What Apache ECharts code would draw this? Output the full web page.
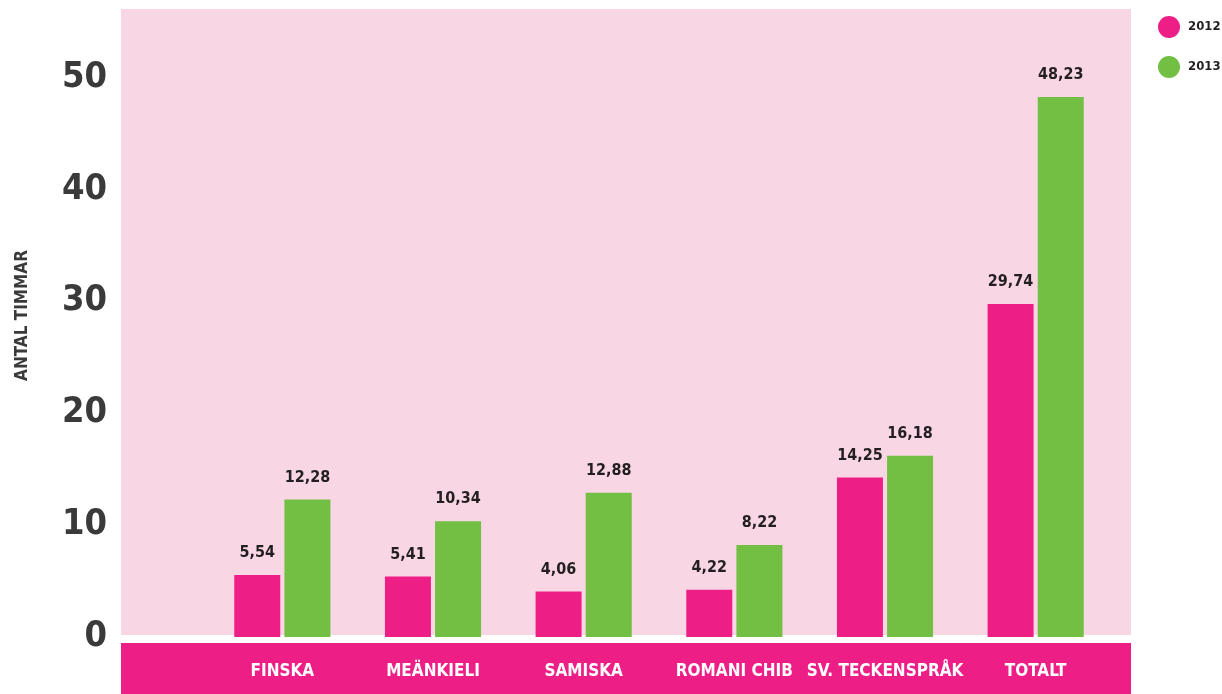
<!DOCTYPE html>
<html>
<head>
<meta charset="utf-8">
<script src="https://cdn.jsdelivr.net/npm/echarts@6/dist/echarts.min.js"></script>
<style>html,body{margin:0;padding:0;background:#fff}#c{width:1222px;height:694px}</style>
</head>
<body>
<div id="c"></div>
<script>
const categories = ['FINSKA', 'MEÄNKIELI', 'SAMISKA', 'ROMANI CHIB', 'SV. TECKENSPRÅK', 'TOTALT'];
const values2012 = [5.54, 5.41, 4.06, 4.22, 14.25, 29.74];
const values2013 = [12.28, 10.34, 12.88, 8.22, 16.18, 48.23];
const seriesNames = ['2012', '2013'];
const yTicks = [0, 10, 20, 30, 40, 50];

const FONT = '"DejaVu Sans Condensed", "Liberation Sans Narrow", sans-serif';
const PINK = '#ED1E86', GREEN = '#72BF44';

const chart = echarts.init(document.getElementById('c'), null, {renderer: 'canvas'});
const fmt = p => String(p.value).replace('.', ',');
chart.setOption({
  animation: false,
  backgroundColor: '#fff',
  graphic: [
    {type: 'rect', z: -10, shape: {x: 121, y: 9, width: 1010, height: 626}, style: {fill: '#F9D6E3'}},
    {type: 'rect', z: -10, shape: {x: 121, y: 643, width: 1010, height: 51}, style: {fill: PINK}}
  ],
  legend: {
    orient: 'vertical', left: 1153, top: 11, itemWidth: 22, itemHeight: 22, itemGap: 18,
    icon: 'circle', data: seriesNames,
    textStyle: {fontFamily: FONT, fontWeight: 'bold', fontSize: 13, color: '#231f20', padding: [0, 0, 0, 3]}
  },
  grid: {left: 207, right: 111, top: 10, height: 627},
  xAxis: {
    type: 'category', data: categories,
    axisLine: {show: false}, axisTick: {show: false},
    axisLabel: {interval: 0, color: '#fff', fontFamily: FONT, fontWeight: 'bold', fontSize: 17, margin: 26}
  },
  yAxis: {
    type: 'value', min: 0, max: 56, interval: 10,
    splitLine: {show: false}, axisLine: {show: false}, axisTick: {show: false},
    axisLabel: {
      showMaxLabel: false,
      formatter: v => (yTicks.indexOf(v) >= 0 ? String(v) : ''),
      color: '#3a3a3a', fontFamily: FONT, fontWeight: 'bold', fontSize: 36, margin: 100
    },
    name: 'ANTAL TIMMAR', nameLocation: 'middle', nameRotate: 90, nameGap: 176,
    nameTextStyle: {color: '#3a3a3a', fontFamily: FONT, fontWeight: 'bold', fontSize: 17, padding: [0, 0, 0, 16]}
  },
  series: [
    {
      name: seriesNames[0], type: 'bar', data: values2012, barWidth: 46, barGap: '9%',
      itemStyle: {color: PINK},
      label: {show: true, position: 'top', distance: 14, formatter: fmt,
        fontFamily: FONT, fontWeight: 'bold', fontSize: 16, color: '#231f20'}
    },
    {
      name: seriesNames[1], type: 'bar', data: values2013, barWidth: 46, barGap: '9%',
      itemStyle: {color: GREEN},
      label: {show: true, position: 'top', distance: 14, formatter: fmt,
        fontFamily: FONT, fontWeight: 'bold', fontSize: 16, color: '#231f20'}
    }
  ]
});
</script>
</body>
</html>
